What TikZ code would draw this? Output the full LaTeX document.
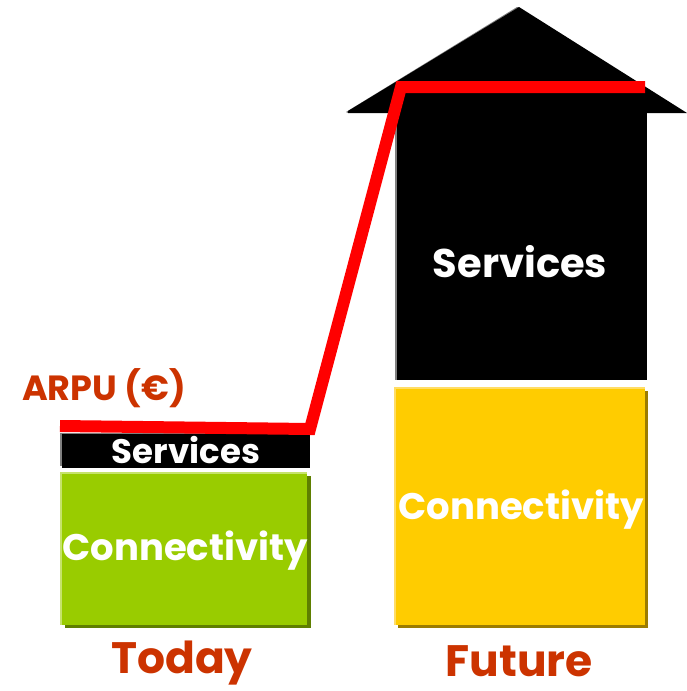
\documentclass[tikz,border=0pt]{standalone}
\usepackage{fontspec}
\setmainfont{Poppins}
\definecolor{arpuorange}{HTML}{CC3300}
\definecolor{conngreen}{HTML}{99CC00}
\definecolor{greenshadow}{HTML}{5F7F00}
\definecolor{greenlight}{HTML}{C6E36B}
\definecolor{connyellow}{HTML}{FFCC00}
\definecolor{yellowshadow}{HTML}{9C7C00}
\definecolor{yellowlight}{HTML}{FFDD66}
\definecolor{arpured}{HTML}{FF0000}
\begin{document}
\begin{tikzpicture}[x=1pt,y=-1pt,
  whitelbl/.style={text=white,font=\bfseries\fontsize{#1}{#1}\selectfont,inner sep=0pt},
  orangelbl/.style={text=arpuorange,font=\bfseries\fontsize{#1}{#1}\selectfont,inner sep=0pt},
  arpuline/.style={draw=arpured,line width=12pt,line join=miter}]
\useasboundingbox (0,0) rectangle (687,691);
% Today: services bar
\fill[gray] (60,433) rectangle (307,466);
\fill[black] (62,434) rectangle (310,468);
\node[whitelbl=34] (tserv) at (186,450) {Services};
% Today: connectivity box
\fill[greenshadow] (65,476) rectangle (311,628);
\fill[greenlight] (60,472) rectangle (307,625);
\fill[conngreen] (62,474) rectangle (307,625);
\node[whitelbl=37] (tconn) at (185,551) {Connectivity};
% Future: house
\fill[gray] (346,112) -- (517,7) -- (519,7) -- (348,113) -- cycle;
\fill[black] (348,111) -- (519,7) -- (687,113) -- (348,113) -- cycle;
\fill[gray] (395,113) rectangle (398,380);
\fill[black] (397,111) rectangle (647,380);
\node[whitelbl=40] (fserv) at (520,262) {Services};
% Future: connectivity box
\fill[yellowshadow] (398,391) rectangle (648,628);
\fill[yellowlight] (394,387) rectangle (645,625);
\fill[connyellow] (396,389) rectangle (645,625);
\node[whitelbl=37] (fconn) at (521,510) {Connectivity};
% labels
\node[orangelbl=35] (arpu) at (104,388) {ARPU (€)};
\node[orangelbl=44] (today) at (182,663) {Today};
\node[orangelbl=44] (future) at (519,661) {Future};
% ARPU line
\coordinate (a0) at (60,426);
\coordinate (a1) at (310,429);
\coordinate (a2) at (401,87);
\coordinate (a3) at (645,87);
\draw[arpuline] (a0) -- (a1) -- (a2) -- (a3);
\end{tikzpicture}
\end{document}
